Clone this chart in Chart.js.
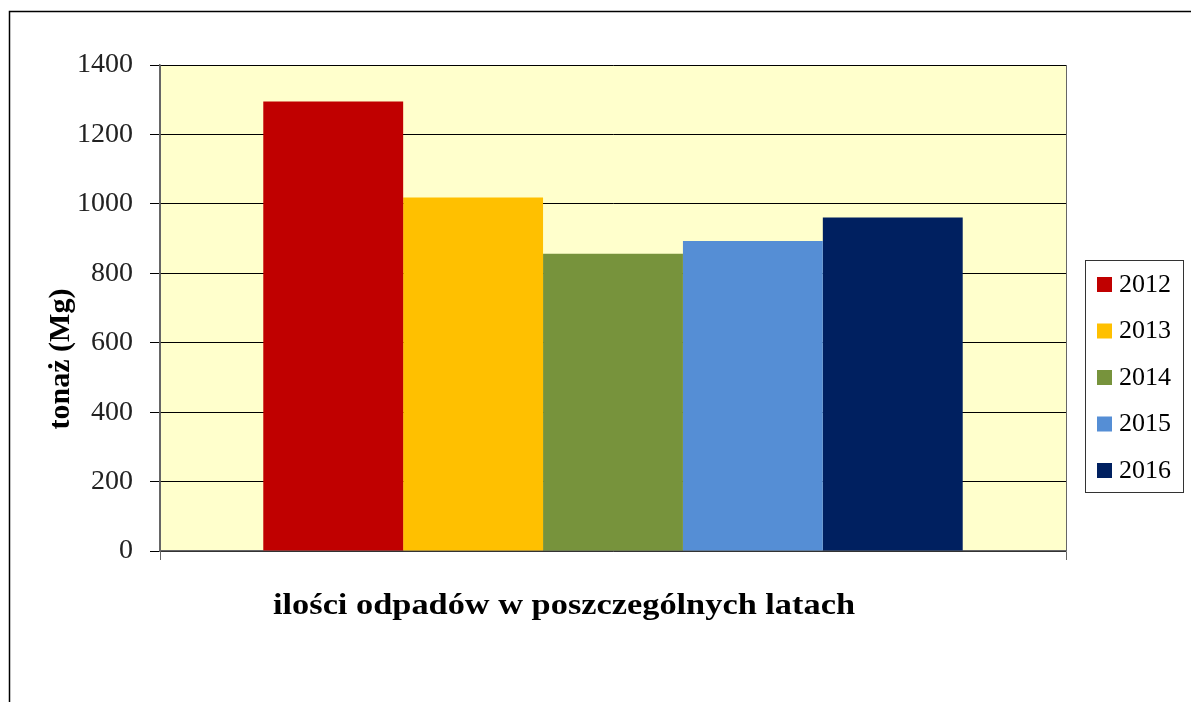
<!DOCTYPE html>
<html>
<head>
<meta charset="utf-8">
<script src="https://cdn.jsdelivr.net/npm/chart.js@4"></script>
<style>
  html, body { margin: 0; padding: 0; background: #fff; }
  #wrap { width: 1191px; height: 702px; position: relative; }
</style>
</head>
<body>
<div id="wrap"><canvas id="myBarChart"></canvas></div>
<script>
const categories = [""];
const years = ["2012", "2013", "2014", "2015", "2016"];
const tonnes = [1295, 1018, 856, 893, 961];
const colors = ["#C00000", "#FFC000", "#77933C", "#558ED5", "#002060"];
const yTitle = "tonaż (Mg)";
const xTitle = "ilości odpadów w poszczególnych latach";
const SERIF = "'Liberation Serif', 'DejaVu Serif', serif";

// plot background, outer frame, axis titles and boxed legend
const decor = {
  id: "decor",
  beforeDraw(chart) {
    const { ctx, chartArea: a } = chart;
    ctx.save();
    ctx.fillStyle = "#FFFFCC";
    ctx.fillRect(a.left, a.top, a.right - a.left, a.bottom - a.top);
    ctx.strokeStyle = "#000";
    ctx.lineWidth = 1.5;
    ctx.beginPath();
    ctx.moveTo(9.5, 702);
    ctx.lineTo(9.5, 11.5);
    ctx.lineTo(1191, 11.5);
    ctx.stroke();
    ctx.restore();
  },
  afterDraw(chart) {
    const { ctx } = chart;
    ctx.save();
    ctx.fillStyle = "#000";
    ctx.font = "bold 30px " + SERIF;
    ctx.textAlign = "center";
    ctx.textBaseline = "alphabetic";
    // stretch the x title to the width it has in the original
    const w = ctx.measureText(xTitle).width;
    ctx.save();
    ctx.translate(564, 614);
    ctx.scale(582 / w, 1);
    ctx.fillText(xTitle, 0, 0);
    ctx.restore();
    ctx.translate(69, 359);
    ctx.rotate(-Math.PI / 2);
    ctx.fillText(yTitle, 0, 0);
    ctx.restore();

    // legend
    ctx.save();
    ctx.strokeStyle = "#333";
    ctx.lineWidth = 1;
    ctx.strokeRect(1085.5, 260.5, 98, 232);
    ctx.font = "26px " + SERIF;
    ctx.textBaseline = "middle";
    ctx.textAlign = "left";
    chart.data.datasets.forEach((ds, i) => {
      const y = 284 + i * 46.5;
      ctx.fillStyle = ds.backgroundColor;
      ctx.fillRect(1097, y - 7, 15, 15);
      ctx.fillStyle = "#000";
      ctx.fillText(ds.label, 1119, y + 1);
    });
    ctx.restore();
  }
};

const ctx = document.getElementById("myBarChart").getContext("2d");
const myBarChart = new Chart(ctx, {
  type: "bar",
  data: {
    labels: categories,
    datasets: years.map((y, i) => ({
      label: y,
      data: [tonnes[i]],
      backgroundColor: colors[i],
      borderWidth: 0,
      categoryPercentage: 0.772,
      barPercentage: 1,
    })),
  },
  options: {
    responsive: true,
    maintainAspectRatio: false,
    animation: false,
    layout: { padding: { left: 0, top: 65, right: 125, bottom: 0 } },
    plugins: {
      legend: { display: false },
      tooltip: { enabled: false },
    },
    scales: {
      x: {
        offset: true,
        ticks: { display: false },
        grid: { display: true, color: "#666", lineWidth: 1, tickLength: 9, offset: true },
        border: { display: true, color: "#666", width: 1.5 },
        afterFit(scale) { scale.height = 151; },
      },
      y: {
        min: 0,
        max: 1400,
        ticks: {
          stepSize: 200,
          color: "#222",
          padding: 17,
          font: { family: SERIF, size: 28 },
          callback: (v) => String(v),
        },
        grid: { color: "#000", lineWidth: 1, tickLength: 10 },
        border: { display: true, color: "#666", width: 1.5 },
        afterFit(scale) { scale.width = 160; },
      },
    },
  },
  plugins: [decor],
});
</script>
</body>
</html>
